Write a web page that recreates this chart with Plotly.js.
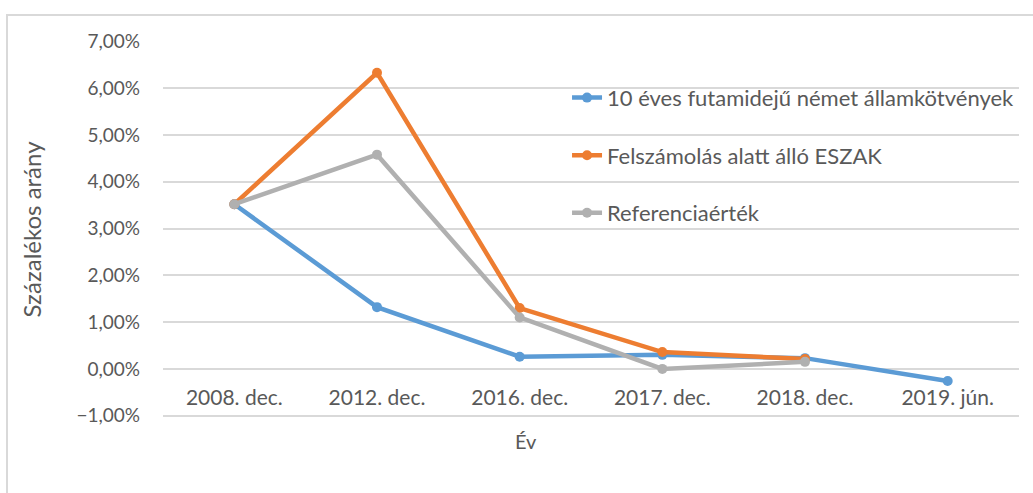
<!DOCTYPE html>
<html>
<head>
<meta charset="utf-8">
<script src="https://cdn.plot.ly/plotly-3.0.1.min.js"></script>
<style>
  html, body { margin: 0; padding: 0; background: #ffffff; }
  #frame { position: absolute; left: 6px; top: 14px; width: 1100px; height: 600px; border: 2px solid #d9d9d9; }
  #chart { position: absolute; left: 0; top: 0; width: 1033px; height: 493px; }
</style>
</head>
<body>
<div id="frame"></div>
<div id="chart"></div>
<script>
const categories = ['2008. dec.', '2012. dec.', '2016. dec.', '2017. dec.', '2018. dec.', '2019. jún.'];
const seriesNames = ['10 éves futamidejű német államkötvények', 'Felszámolás alatt álló ESZAK', 'Referenciaérték'];
// values in percent
const german = [3.52, 1.32, 0.26, 0.30, 0.23, -0.26];
const eszak = [3.52, 6.33, 1.30, 0.36, 0.21, null];
const reference = [3.52, 4.58, 1.10, 0.00, 0.15, null];
const yTicks = [-1, 0, 1, 2, 3, 4, 5, 6, 7];

const colors = ['#5b9bd5', '#ed7d31', '#b0b0b0'];
const values = [german, eszak, reference];
const toFrac = v => (v === null ? null : v / 100);

const traces = values.map((v, i) => ({
  type: 'scatter',
  mode: 'lines+markers',
  x: categories,
  y: v.map(toFrac),
  name: seriesNames[i],
  legendgroup: 'g' + i,
  line: { color: colors[i], width: 4.5 },
  marker: { color: colors[i], size: 10 },
  connectgaps: false,
  hoverinfo: 'x+y+name'
}));

const fontFamily = 'Lato, "Open Sans", sans-serif';
const textColor = '#595959';
const yMin = -0.0105, yMax = 0.0701;

const layout = {
  width: 1033,
  height: 493,
  margin: { l: 163, r: 14, t: 41, b: 75 },
  paper_bgcolor: 'rgba(0,0,0,0)',
  plot_bgcolor: 'rgba(0,0,0,0)',
  separators: ', ',
  font: { family: fontFamily, color: textColor, size: 19 },
  showlegend: true,
  legend: {
    x: 0.472, xanchor: 'left',
    y: 0.905, yanchor: 'top',
    bgcolor: 'rgba(0,0,0,0)',
    font: { family: fontFamily, size: 22, color: textColor },
    traceorder: 'grouped',
    tracegroupgap: 26
  },
  xaxis: {
    type: 'category',
    range: [-0.5, 5.5],
    anchor: 'free',
    position: (0 - yMin) / (yMax - yMin),
    showgrid: false,
    zeroline: false,
    showline: false,
    ticks: '',
    ticklabelstandoff: 14,
    tickfont: { family: fontFamily, size: 21, color: textColor },
    fixedrange: true
  },
  yaxis: {
    range: [yMin, yMax],
    tickvals: yTicks.map(t => t / 100),
    tickformat: '.2%',
    showgrid: true,
    gridcolor: '#d9d9d9',
    gridwidth: 1.5,
    zeroline: false,
    showline: false,
    ticks: '',
    ticklabelstandoff: 22,
    tickfont: { family: fontFamily, size: 19, color: textColor },
    title: { text: 'Százalékos arány', font: { family: fontFamily, size: 24, color: textColor }, standoff: 27 },
    fixedrange: true
  },
  annotations: [{
    text: 'Év',
    xref: 'paper', yref: 'paper',
    x: (526 - 163) / 856, y: (418 - 441) / 377,
    xanchor: 'center', yanchor: 'middle',
    showarrow: false,
    font: { family: fontFamily, size: 20, color: textColor }
  }]
};

Plotly.newPlot('chart', traces, layout, { displayModeBar: false });
</script>
</body>
</html>
